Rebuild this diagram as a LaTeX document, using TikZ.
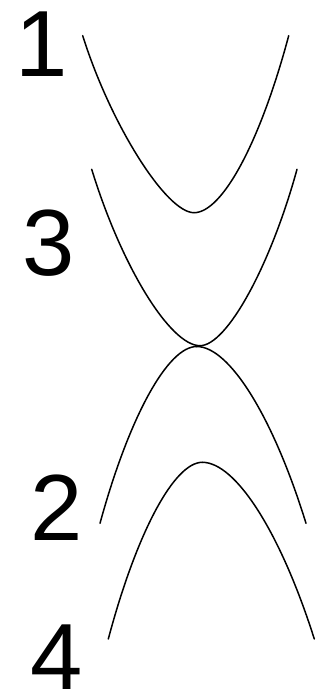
\documentclass[tikz,border=0pt]{standalone}
\usepackage{fontspec}
\setmainfont{Liberation Sans}
\usetikzlibrary{calc}
\newcommand{\bandhalf}[3]{% #1 end, #2 vertex, #3 handle factor
  \coordinate (bhq) at ($(#1)!0.5!(#2)$);
  \coordinate (bhq) at (bhq |- #2);
  \draw[band] (#1) .. controls ($(#1)!#3!(bhq)$) and ($(#2)!#3!(bhq)$) .. (#2);}
\begin{document}
\begin{tikzpicture}[x=1pt,y=-1pt,
  band/.style={line width=1.5pt, black, line cap=round},
  digit/.style={anchor=base, inner sep=0pt, font=\fontsize{94}{94}\selectfont}]
\useasboundingbox (0,0) rectangle (320,692);
% band 1
\coordinate (a1) at (82.7,35.7);  \coordinate (v1) at (194,212.7);  \coordinate (b1) at (288.7,35.7);
% band 3
\coordinate (a3) at (91.7,169.3); \coordinate (v3) at (200,345.7);  \coordinate (b3) at (297,169.3);
% band 2
\coordinate (a2) at (100,523.3);  \coordinate (v2) at (196.7,346.5); \coordinate (b2) at (306,523.3);
% band 4
\coordinate (a4) at (108.3,639);  \coordinate (v4) at (202.3,462.3); \coordinate (b4) at (314.3,639);
\bandhalf{a1}{v1}{0.5}  \bandhalf{b1}{v1}{0.6}
\bandhalf{a3}{v3}{0.55} \bandhalf{b3}{v3}{0.55}
\bandhalf{a2}{v2}{0.6}  \bandhalf{b2}{v2}{0.6}
\bandhalf{a4}{v4}{0.6}  \bandhalf{b4}{v4}{0.6}
\node[digit] (l1) at (42,77) {1};
\node[digit] (l3) at (48.5,275) {3};
\node[digit] (l2) at (57,540) {2};
\node[digit] (l4) at (57,689) {4};
\end{tikzpicture}
\end{document}
